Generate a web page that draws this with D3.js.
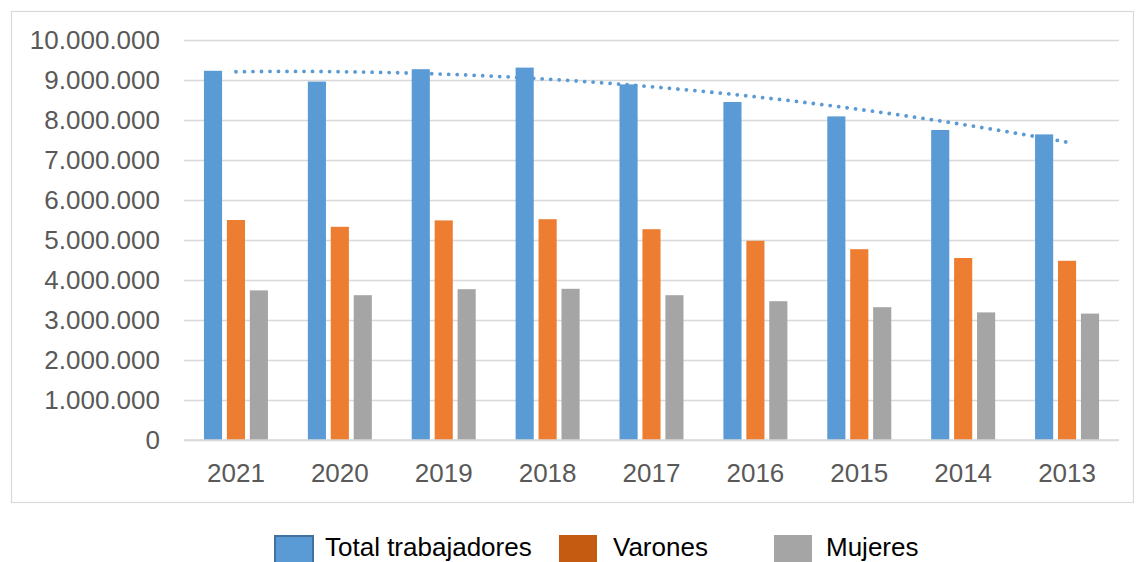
<!DOCTYPE html>
<html>
<head>
<meta charset="utf-8">
<script src="https://cdn.jsdelivr.net/npm/d3@7"></script>
<style>
  body { margin: 0; background: #fff; }
  svg { display: block; font-family: "Liberation Sans", Arial, sans-serif; }
</style>
</head>
<body>
<svg id="drawing_region"></svg>
<script>
// data
const years = ['2021', '2020', '2019', '2018', '2017', '2016', '2015', '2014', '2013'];
const series = ['Total trabajadores', 'Varones', 'Mujeres'];
const total   = [9230000, 8960000, 9270000, 9310000, 8890000, 8450000, 8090000, 7750000, 7640000];
const varones = [5500000, 5330000, 5490000, 5520000, 5270000, 4980000, 4770000, 4550000, 4480000];
const mujeres = [3740000, 3620000, 3770000, 3780000, 3620000, 3470000, 3320000, 3190000, 3160000];
const yTicks = [0, 1000000, 2000000, 3000000, 4000000, 5000000, 6000000, 7000000, 8000000, 9000000, 10000000];

const barColors = ['#5B9BD5', '#ED7D31', '#A5A5A5'];
const legendColors = ['#5B9BD5', '#C55A11', '#A5A5A5'];

const width = 1136, height = 562;
const plot = { left: 184, right: 1119, top: 40, bottom: 440 };

const svg = d3.select('#drawing_region')
  .attr('width', width)
  .attr('height', height);

// chart frame
svg.append('rect')
  .attr('x', 11.5).attr('y', 11.5)
  .attr('width', 1122).attr('height', 491)
  .attr('fill', '#fff')
  .attr('stroke', '#D9D9D9')
  .attr('stroke-width', 1.2);

const x = d3.scaleBand()
  .domain(years)
  .range([plot.left, plot.right])
  .paddingInner(0.384)
  .paddingOuter(0.192);

const xInner = d3.scaleBand()
  .domain(series)
  .range([0, x.bandwidth()])
  .paddingInner(0.21);

const y = d3.scaleLinear()
  .domain([0, 10000000])
  .range([plot.bottom, plot.top]);

const locale = d3.formatLocale({ decimal: ',', thousands: '.', grouping: [3], currency: ['', ''] });
const fmt = locale.format(',');

// gridlines + y labels
const yAxis = svg.append('g')
  .attr('transform', `translate(${plot.left},0)`)
  .call(d3.axisLeft(y).tickValues(yTicks).tickFormat(fmt).tickSize(-(plot.right - plot.left)).tickPadding(24));
yAxis.select('.domain').remove();
yAxis.selectAll('line').attr('stroke', '#D9D9D9').attr('stroke-width', 1.5);
yAxis.selectAll('text')
  .attr('fill', '#595959')
  .attr('font-size', 26)
  .attr('font-family', '"Liberation Sans", Arial, sans-serif');

// bars
const rows = years.map((yr, i) => ({ year: yr, values: [total[i], varones[i], mujeres[i]] }));

const groups = svg.append('g').selectAll('g')
  .data(rows)
  .join('g')
  .attr('transform', d => `translate(${x(d.year)},0)`);

groups.selectAll('rect')
  .data(d => d.values.map((v, j) => ({ key: series[j], value: v, j: j })))
  .join('rect')
  .attr('x', d => xInner(d.key))
  .attr('width', xInner.bandwidth())
  .attr('y', d => y(d.value))
  .attr('height', d => y(0) - y(d.value))
  .attr('fill', d => barColors[d.j]);

// x axis
const xAxis = svg.append('g')
  .attr('transform', `translate(0,${plot.bottom})`)
  .call(d3.axisBottom(x).tickSize(0).tickPadding(24));
xAxis.select('.domain').attr('stroke', '#D9D9D9').attr('stroke-width', 1.5)
  .attr('d', `M${plot.left},0H${plot.right}`);
xAxis.selectAll('text')
  .attr('fill', '#595959')
  .attr('font-size', 26)
  .attr('font-family', '"Liberation Sans", Arial, sans-serif');

// polynomial (order 2) trendline of the totals, like Excel
const n = total.length;
const xs = d3.range(1, n + 1);
let S = [0, 0, 0, 0, 0], T = [0, 0, 0];
xs.forEach((t, i) => {
  for (let k = 0; k < 5; k++) S[k] += Math.pow(t, k);
  for (let k = 0; k < 3; k++) T[k] += Math.pow(t, k) * total[i];
});
function solve3(A, b) {
  const M = A.map((r, i) => r.concat([b[i]]));
  for (let c = 0; c < 3; c++) {
    let p = c;
    for (let r = c + 1; r < 3; r++) if (Math.abs(M[r][c]) > Math.abs(M[p][c])) p = r;
    [M[c], M[p]] = [M[p], M[c]];
    for (let r = 0; r < 3; r++) {
      if (r === c) continue;
      const f = M[r][c] / M[c][c];
      for (let k = c; k < 4; k++) M[r][k] -= f * M[c][k];
    }
  }
  return M.map((r, i) => r[3] / r[i]);
}
const coef = solve3([[S[0], S[1], S[2]], [S[1], S[2], S[3]], [S[2], S[3], S[4]]], T);
const trendX = d3.scaleLinear()
  .domain([1, n])
  .range([x(years[0]) + x.bandwidth() / 2, x(years[n - 1]) + x.bandwidth() / 2]);
const trendPts = d3.range(1, n + 0.001, 0.05).map(t => [trendX(t), y(coef[0] + coef[1] * t + coef[2] * t * t)]);

svg.append('path')
  .datum(trendPts)
  .attr('d', d3.line())
  .attr('fill', 'none')
  .attr('stroke', '#5B9BD5')
  .attr('stroke-width', 3.8)
  .attr('stroke-linecap', 'round')
  .attr('stroke-dasharray', '0.01 8.5');

// legend
const legendX = [274, 559, 774];
const legendTextX = [325, 613, 826];
const legend = svg.append('g').selectAll('g')
  .data(series)
  .join('g');

legend.append('rect')
  .attr('x', (d, i) => legendX[i] + (i === 0 ? 1 : 0))
  .attr('y', (d, i) => 535 + (i === 0 ? 1 : 0))
  .attr('width', 38)
  .attr('height', 36)
  .attr('fill', (d, i) => legendColors[i])
  .attr('stroke', (d, i) => i === 0 ? '#41719C' : 'none')
  .attr('stroke-width', 2);

legend.append('text')
  .attr('x', (d, i) => legendTextX[i])
  .attr('y', 556)
  .attr('font-size', 26)
  .attr('fill', '#000')
  .text(d => d);
</script>
</body>
</html>
